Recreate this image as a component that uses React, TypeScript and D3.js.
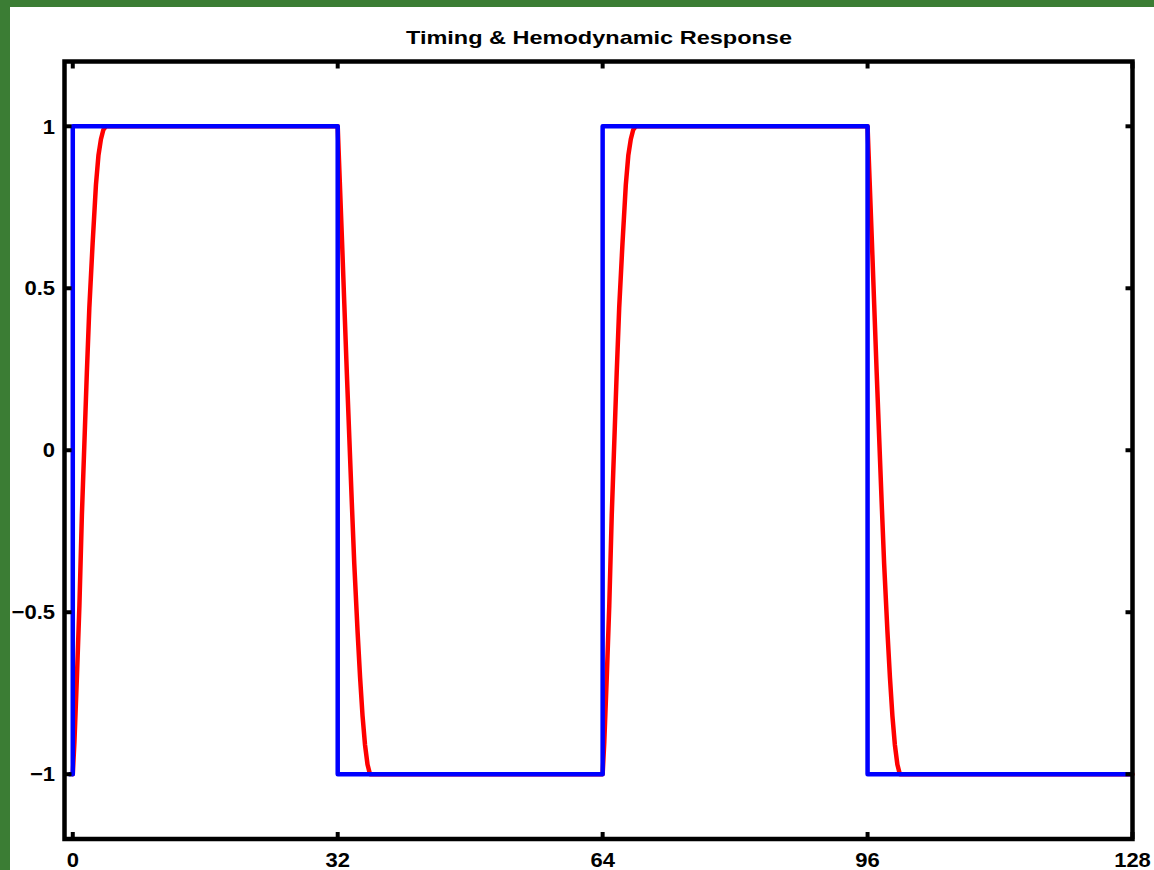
import React from "react";
import * as d3 from "d3";

// ---- data ----
const xTicks = [0, 32, 64, 96, 128];
const yTicks = [-1, -0.5, 0, 0.5, 1];
const yTickLabels = ["\u22121", "\u22120.5", "0", "0.5", "1"];

// stimulus timing (blue square wave)
const stimTime = [-0.5, 0, 0, 32, 32, 64, 64, 96, 96, 128];
const stimValue = [-1, -1, 1, 1, -1, -1, 1, 1, -1, -1];

// hemodynamic response (red)
const hrfTime = [
  0, 0.2, 0.5, 0.8, 1.1, 1.4, 1.7, 2.0, 2.4, 2.8, 3.1, 3.4, 3.7, 4.0,
  32, 32.25, 32.5, 32.8, 33.1, 33.4, 33.7, 34.0, 34.4, 34.7, 35.0, 35.3, 35.6, 35.9,
  64, 64.2, 64.5, 64.8, 65.1, 65.4, 65.7, 66.0, 66.4, 66.8, 67.1, 67.4, 67.7, 68.0,
  96, 96.25, 96.5, 96.8, 97.1, 97.4, 97.7, 98.0, 98.4, 98.7, 99.0, 99.3, 99.6, 99.9,
  128,
];
const hrfValue = [
  -1, -0.9, -0.7, -0.48, -0.2, 0.02, 0.24, 0.44, 0.64, 0.82, 0.91, 0.96, 0.99, 1,
  1, 0.83, 0.66, 0.45, 0.24, 0.04, -0.16, -0.35, -0.56, -0.7, -0.82, -0.91, -0.97, -1,
  -1, -0.9, -0.7, -0.48, -0.2, 0.02, 0.24, 0.44, 0.64, 0.82, 0.91, 0.96, 0.99, 1,
  1, 0.83, 0.66, 0.45, 0.24, 0.04, -0.16, -0.35, -0.56, -0.7, -0.82, -0.91, -0.97, -1,
  -1,
];

const W = 1154;
const H = 870;
const L = 64.5, R = 1132.5, T = 61.5, B = 839;

export default function App() {
  const x = d3.scaleLinear().domain([-1, 128]).range([L, R]);
  const y = d3.scaleLinear().domain([-1.2, 1.2]).range([B, T]);

  const line = d3
    .line<[number, number]>()
    .x((d) => x(d[0]))
    .y((d) => y(d[1]))
    .curve(d3.curveLinear);

  const stimPts: [number, number][] = stimTime.map((t, i) => [t, stimValue[i]]);
  const hrfPts: [number, number][] = hrfTime.map((t, i) => [t, hrfValue[i]]);

  const font = "'Liberation Sans', Arial, Helvetica, sans-serif";
  const tickLen = 7;

  return (
    <svg
      width={W}
      height={H}
      style={{ position: "absolute", left: 0, top: 0, display: "block" }}
    >
      <rect x={0} y={0} width={W} height={H} fill="#3b7d34" />
      <rect x={10} y={7} width={W - 10} height={H - 7} fill="#ffffff" />

      <text
        x={599}
        y={44}
        textAnchor="middle"
        fontFamily={font}
        fontWeight="bold"
        fontSize={19}
        textLength={386}
        lengthAdjust="spacingAndGlyphs"
        fill="#000"
      >
        Timing &amp; Hemodynamic Response
      </text>

      {/* data lines */}
      <path
        d={line(hrfPts) || ""}
        fill="none"
        stroke="#ff0000"
        strokeWidth={4.5}
        strokeLinejoin="round"
        strokeLinecap="round"
      />
      <path
        d={line(stimPts) || ""}
        fill="none"
        stroke="#0000ff"
        strokeWidth={4.5}
        strokeLinejoin="round"
      />

      {/* axes box */}
      <rect
        x={L}
        y={T}
        width={R - L}
        height={B - T}
        fill="none"
        stroke="#000"
        strokeWidth={4.5}
      />

      {/* ticks */}
      {xTicks.map((t) => (
        <g key={"xt" + t}>
          <line x1={x(t)} x2={x(t)} y1={B} y2={B - tickLen} stroke="#000" strokeWidth={4} />
          <line x1={x(t)} x2={x(t)} y1={T} y2={T + tickLen} stroke="#000" strokeWidth={4} />
          <text
            transform={`translate(${x(t)},${867}) scale(1.1,1)`}
            textAnchor="middle"
            fontFamily={font}
            fontWeight="bold"
            fontSize={20}
            fill="#000"
          >
            {String(t)}
          </text>
        </g>
      ))}
      {yTicks.map((v, i) => (
        <g key={"yt" + v}>
          <line x1={L} x2={L + tickLen} y1={y(v)} y2={y(v)} stroke="#000" strokeWidth={4} />
          <line x1={R} x2={R - tickLen} y1={y(v)} y2={y(v)} stroke="#000" strokeWidth={4} />
          <text
            transform={`translate(${55},${y(v)}) scale(1.1,1)`}
            textAnchor="end"
            dy="0.36em"
            fontFamily={font}
            fontWeight="bold"
            fontSize={20}
            fill="#000"
          >
            {yTickLabels[i]}
          </text>
        </g>
      ))}
    </svg>
  );
}
